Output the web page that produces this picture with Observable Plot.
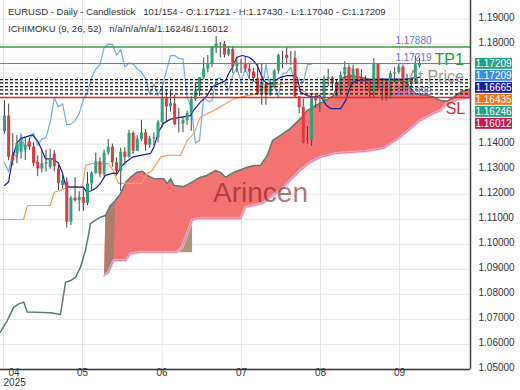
<!DOCTYPE html>
<html><head><meta charset="utf-8">
<script src="https://cdn.jsdelivr.net/npm/d3@7"></script>
<script src="https://cdn.jsdelivr.net/npm/@observablehq/plot@0.6"></script>
<style>
body{margin:0;background:#fff;font-family:"Liberation Sans",Arial,sans-serif;}
#wrap{position:relative;width:520px;height:390px;overflow:hidden;}
.hdr{position:absolute;left:8px;font-size:9.5px;color:#333;white-space:pre;line-height:12px;}
</style></head><body>
<div id="wrap"></div>
<script>
// ---- data ----
const opens  = [1.1450,1.1512,1.1353,1.1362,1.1368,1.1388,1.1408,1.1388,1.1328,1.1301,1.1320,1.1308,1.1360,1.1301,1.1235,1.1250,1.1088,1.1184,1.1174,1.1187,1.1163,1.1241,1.1283,1.1330,1.1280,1.1364,1.1388,1.1326,1.1290,1.1368,1.1347,1.1443,1.1371,1.1420,1.1444,1.1396,1.1421,1.1425,1.1487,1.1585,1.1549,1.1561,1.1478,1.1480,1.1494,1.1523,1.1578,1.1610,1.1665,1.1700,1.1718,1.1787,1.1800,1.1799,1.1756,1.1778,1.1708,1.1724,1.1721,1.1700,1.1688,1.1662,1.1598,1.1640,1.1596,1.1626,1.1692,1.1754,1.1755,1.1742,1.1742,1.1589,1.1546,1.1420,1.1415,1.1587,1.1572,1.1573,1.1660,1.1665,1.1642,1.1615,1.1675,1.1706,1.1649,1.1700,1.1661,1.1649,1.1650,1.1609,1.1718,1.1622,1.1641,1.1587,1.1681,1.1686,1.1708,1.1640,1.1660,1.1646,1.17121];
const highs  = [1.1573,1.1560,1.1442,1.1434,1.1425,1.1428,1.1425,1.1405,1.1353,1.1380,1.1375,1.1380,1.1375,1.1325,1.1275,1.1265,1.1192,1.1266,1.1210,1.1226,1.1287,1.1290,1.1364,1.1345,1.1376,1.1418,1.1400,1.1345,1.1384,1.1386,1.1455,1.1450,1.1434,1.1495,1.1458,1.1431,1.1445,1.1494,1.1631,1.1613,1.1614,1.1595,1.1542,1.1508,1.1532,1.1590,1.1640,1.1667,1.1744,1.1754,1.1789,1.1830,1.1806,1.1810,1.1790,1.1790,1.1748,1.1740,1.1747,1.1720,1.1703,1.1720,1.1721,1.1642,1.1660,1.1698,1.1760,1.1770,1.1788,1.1770,1.1771,1.1591,1.1580,1.1471,1.1600,1.1597,1.1588,1.1672,1.1699,1.1670,1.1656,1.1689,1.1730,1.1716,1.1716,1.1701,1.1697,1.1672,1.1659,1.1742,1.1720,1.1663,1.1651,1.1690,1.1705,1.1720,1.1716,1.1679,1.1663,1.1752,1.17430];
const lows   = [1.1440,1.1333,1.1313,1.1322,1.1340,1.1335,1.1375,1.1310,1.1270,1.1285,1.1288,1.1300,1.1290,1.1215,1.1220,1.1065,1.1075,1.1170,1.1130,1.1131,1.1154,1.1214,1.1280,1.1266,1.1270,1.1355,1.1308,1.1272,1.1211,1.1314,1.1345,1.1358,1.1370,1.1410,1.1372,1.1383,1.1393,1.1405,1.1465,1.1489,1.1528,1.1474,1.1445,1.1446,1.1475,1.1452,1.1571,1.1590,1.1657,1.1685,1.1705,1.1762,1.1745,1.1744,1.1749,1.1682,1.1685,1.1682,1.1688,1.1660,1.1650,1.1594,1.1556,1.1556,1.1590,1.1620,1.1680,1.1701,1.1716,1.1714,1.1583,1.1522,1.1401,1.1400,1.1391,1.1543,1.1528,1.1562,1.1631,1.1616,1.1589,1.1600,1.1660,1.1630,1.1646,1.1644,1.1640,1.1620,1.1583,1.1582,1.1613,1.1573,1.1573,1.1580,1.1645,1.1679,1.1608,1.1630,1.1606,1.1640,1.17040];
const closes = [1.1512,1.1348,1.1333,1.1402,1.1408,1.1395,1.1388,1.1322,1.1301,1.1322,1.1326,1.1341,1.1310,1.1242,1.1255,1.1088,1.1184,1.1174,1.1187,1.1163,1.1241,1.1283,1.1330,1.1280,1.1364,1.1388,1.1326,1.1290,1.1368,1.1347,1.1443,1.1371,1.1420,1.1444,1.1396,1.1421,1.1425,1.1487,1.1585,1.1549,1.1561,1.1478,1.1480,1.1494,1.1523,1.1578,1.1610,1.1665,1.1700,1.1718,1.1787,1.1800,1.1799,1.1756,1.1778,1.1708,1.1724,1.1721,1.1700,1.1688,1.1662,1.1598,1.1640,1.1596,1.1626,1.1692,1.1754,1.1755,1.1742,1.1742,1.1589,1.1546,1.1405,1.1415,1.1587,1.1572,1.1573,1.1660,1.1665,1.1642,1.1615,1.1675,1.1706,1.1649,1.1700,1.1661,1.1649,1.1650,1.1609,1.1718,1.1622,1.1641,1.1587,1.1681,1.1686,1.1708,1.1640,1.1660,1.1646,1.1717,1.17209];

// Ichimoku lines: [bar, price]
const tenkan = [[0,1.1235],[1,1.1250],[2,1.1348],[3,1.1405],[4,1.1423],[5,1.1428],[6.7,1.1437],[7.9,1.1415],[8.7,1.1388],[9.9,1.1341],[11.8,1.1341],[13,1.1323],[13.9,1.1288],[14.7,1.1235],[15.9,1.1228],[19,1.1228],[19.8,1.1208],[21.1,1.1215],[22.3,1.1228],[23.1,1.1243],[24.3,1.1275],[26,1.1283],[27.2,1.1283],[28,1.1308],[29.2,1.1328],[30.8,1.1348],[32.8,1.1355],[35.2,1.1363],[36,1.1388],[37.1,1.1448],[38.3,1.1483],[40,1.1500],[44.8,1.1514],[45.5,1.1534],[47.2,1.1568],[48.8,1.1594],[50,1.1628],[51.6,1.1641],[53.3,1.1654],[54,1.1681],[54.9,1.1707],[56,1.1747],[57.3,1.1754],[58.9,1.1747],[60,1.1734],[60.9,1.1714],[61.7,1.1681],[62.5,1.1654],[63.3,1.1641],[64.5,1.1641],[65.3,1.1654],[66.5,1.1667],[68.1,1.1674],[69.7,1.1674],[70.5,1.1667],[71.3,1.1608],[72.9,1.1594],[74.5,1.1588],[76,1.1594],[77.6,1.1554],[78.6,1.1542],[81,1.1542],[82.2,1.1574],[83.4,1.1634],[84.6,1.1654],[90,1.1660],[96.6,1.1660],[100,1.16665]];
const kijun = [[-1,1.1099],[4.6,1.1099],[5.5,1.1155],[11,1.1155],[12,1.1208],[13.5,1.1215],[15,1.1228],[18.8,1.1228],[19.5,1.1315],[21,1.1322],[25,1.1322],[26,1.1300],[27.5,1.1243],[33,1.1243],[34.4,1.1282],[35.6,1.1295],[37.6,1.1348],[39.2,1.1355],[42.4,1.1355],[44,1.1415],[45.6,1.1441],[47.2,1.1508],[50.4,1.1534],[55.3,1.1581],[58.5,1.1594],[60.9,1.1601],[61.7,1.1622],[64.1,1.1634],[66.5,1.1641],[69.6,1.1648],[71.3,1.1622],[72.9,1.1601],[93,1.1601],[94,1.16435],[100,1.16435]];
const spanA = [[-1,1.0649],[0.65,1.0695],[2.24,1.0749],[3.45,1.0762],[4.65,1.0769],[5.47,1.0729],[11.08,1.0726],[13.49,1.0719],[14.7,1.0848],[15.9,1.0855],[17.1,1.0868],[18.3,1.0908],[19.5,1.0975],[20.3,1.1042],[20.7,1.1082],[21.9,1.1095],[23.1,1.1108],[24.3,1.1115],[25.5,1.1155],[26.7,1.1175],[27.95,1.1202],[29.2,1.1248],[30.4,1.1268],[32,1.1288],[33.2,1.1292],[34.4,1.1275],[36,1.1262],[38.4,1.1262],[39.2,1.1242],[40,1.1262],[40.8,1.1235],[43.2,1.1231],[45.2,1.1248],[47.2,1.1268],[48.8,1.1275],[50.8,1.1295],[52,1.1288],[53.3,1.1268],[55.3,1.1288],[56.9,1.1298],[58.5,1.1308],[60.1,1.1315],[61.7,1.1315],[63.3,1.1355],[64.6,1.1415],[66.5,1.1435],[68.9,1.1463],[71.3,1.1502],[72.9,1.1534],[74.9,1.1554],[77.3,1.1574],[79.3,1.1594],[80.5,1.1646],[81.7,1.1667],[83.4,1.1674],[85.8,1.1667],[88.2,1.1658],[90.6,1.1658],[93,1.1654],[95.4,1.1654],[97,1.1647],[97.8,1.1622],[99,1.1602],[101.9,1.1594],[103.4,1.1588],[105.1,1.1574],[106.7,1.1572],[108.2,1.1588],[109.9,1.1608],[112.3,1.1621]];
const spanB = [[24,1.0875],[25.1,1.0888],[26.3,1.0935],[29.2,1.0935],[30.4,1.0962],[32.8,1.0968],[41.6,1.0968],[42.8,1.0988],[44,1.1042],[45.2,1.1095],[46.4,1.1102],[56.9,1.1102],[58.1,1.1148],[60.1,1.1155],[62.2,1.1163],[64.1,1.1187],[66.5,1.1215],[68.9,1.1255],[71.3,1.1295],[73.7,1.1327],[76.1,1.1347],[79.8,1.1363],[83.4,1.1367],[87,1.1371],[91.3,1.1383],[95.4,1.1427],[100.2,1.1494],[103.4,1.1522],[105.1,1.1534],[106.7,1.1562],[109.2,1.1578],[112.3,1.1586]];
// darker (olive) parts of the cloud, as bar ranges
const shadeRanges = [[24, 26.3], [41.6, 45.2]];

// horizontal levels
const tpLevel = 1.1788;
const entryLevel = 1.17219;
const dottedLevels = [1.1658, 1.1645, 1.1630, 1.1617, 1.1601];
const slLevel = 1.1586;
const levelTexts = ["1.17880", "1.17219", "1.15996"];

// axes
const priceTicks = d3.range(1.05, 1.1951, 0.01);
const monthTicks = [-0.24, 18.79, 37.95, 57.11, 76.14, 95.18];
const monthLabels = ["04", "05", "06", "07", "08", "09"];
const yearLabel = "2025";

// right tags
const tagValues = [1.17209, 1.17209, 1.16665, 1.16435, 1.16246, 1.16012];
const tagColors = ["#27a085", "#3c8ce4", "#1c1ca0", "#f07418", "#25a08a", "#c6184c"];

// ---- build ----
const yDomain = [1.04997, 1.19739];
const yPre = Plot.scale({y: {domain: yDomain, range: [369, 0]}});
let prevY = -Infinity;
const tagYs = tagValues.map(v => { const y = Math.max(yPre.apply(v), prevY + 12); prevY = y; return y; });
const tagTop = tagYs[0] - 6, tagBot = tagYs[tagYs.length - 1] + 6;
const shownTicks = priceTicks.filter(t => { const y = yPre.apply(t) - 1.5; return y < tagTop - 5 || y > tagBot + 5; });

const candles = closes.map((c, i) => ({i, o: opens[i], h: highs[i], l: lows[i], c}));
const chikou = candles.filter(d => d.i >= 26).map(d => ({x: d.i - 26, y: d.c}));
const pt = a => a.map(([x, y]) => ({x, y}));
const cloudPoly = [...spanA.filter(d => d[0] >= 23.9), ...spanB.slice().reverse()].map(([x, y]) => ({x, y}));
// shade 1: full cloud between its first bars; shade 2: the corner under the spanB step
const inR = (d, r) => d[0] >= r[0] - 0.01 && d[0] <= r[1] + 0.01;
const shade1 = [...spanA.filter(d => d[0] >= 23.9 && d[0] <= 26.7), ...spanB.filter(d => inR(d, shadeRanges[0])).reverse()].map(([x, y]) => ({x, y, g: 1}));
const sb2 = spanB.filter(d => inR(d, shadeRanges[1]));
const shade2 = [...sb2, [sb2[sb2.length - 1][0], sb2[0][1]]].map(([x, y]) => ({x, y, g: 2}));
const green = "#2ca37c", red = "#e0393e";

const chart = Plot.plot({
  width: 520, height: 390,
  marginLeft: 0, marginRight: 50, marginTop: 0, marginBottom: 21,
  style: {fontFamily: "Liberation Sans, Arial, sans-serif", fontSize: "10px", color: "#333", background: "#fff"},
  x: {domain: [-0.964, 112.29], axis: null},
  y: {domain: yDomain, axis: null},
  marks: [
    Plot.ruleY(priceTicks, {stroke: "#e6e6e6"}),
    Plot.ruleX(monthTicks, {stroke: "#e6e6e6"}),
    Plot.line(cloudPoly, {x: "x", y: "y", fill: "#f26b6b", fillOpacity: 0.95, stroke: "none", clip: true}),
    Plot.line([...shade1, ...shade2], {x: "x", y: "y", z: "g", fill: "#a0806a", fillOpacity: 0.85, stroke: "none", clip: true}),
    Plot.line(pt(spanB), {x: "x", y: "y", stroke: "#f6c0f2", strokeWidth: 3, strokeOpacity: 0.7, clip: true}),
    Plot.line(pt(spanB), {x: "x", y: "y", stroke: "#c87088", strokeWidth: 0.7, clip: true}),
    Plot.line(pt(spanA), {x: "x", y: "y", stroke: "#5d7a6c", strokeWidth: 1.5, clip: true}),
    Plot.text(["Arincen"], {frameAnchor: "middle", dx: 25, dy: 8.5, fontSize: 28, fill: "#7d1c1c", fillOpacity: 0.6}),
    Plot.line(chikou, {x: "x", y: "y", stroke: "#74ade0", strokeWidth: 1.2, clip: true}),
    Plot.line(pt(kijun), {x: "x", y: "y", stroke: "#f2a066", strokeWidth: 1.2, clip: true}),
    Plot.line(pt(tenkan), {x: "x", y: "y", stroke: "#1c1c9c", strokeWidth: 1.2, clip: true}),
    Plot.ruleX(candles, {x: "i", y1: "l", y2: "h", stroke: "#444", strokeWidth: 1}),
    Plot.ruleX(candles, {x: "i", y1: "o", y2: "c", stroke: d => d.c >= d.o ? green : red, strokeWidth: 3}),
    Plot.ruleY([tpLevel], {stroke: "#3f9a46", strokeWidth: 1.5}),
    Plot.ruleY([entryLevel], {stroke: "#777", strokeWidth: 1}),
    Plot.ruleY(dottedLevels, {stroke: "#111", strokeWidth: 1.2, strokeDasharray: "3,2"}),
    Plot.ruleY([slLevel], {stroke: "#e02828", strokeWidth: 1.5}),
    Plot.text([tpLevel, entryLevel, slLevel], {x: 102.9, y: d => d, text: (d, i) => levelTexts[i], textAnchor: "end", dy: -6, fill: "#6475c4", fontSize: 10}),
    Plot.text(["TP1"], {x: 103.6, y: [entryLevel], textAnchor: "start", dy: -4, fill: "#2a9a3c", fontSize: 16}),
    Plot.text(["At Price"], {x: 97.2, y: [dottedLevels[0]], textAnchor: "start", dy: -2.5, fill: "#8a8a8a", fillOpacity: 0.9, fontSize: 16}),
    Plot.text(["SL"], {x: 106.3, y: [slLevel], textAnchor: "start", dy: 11, fill: "#d42c2c", fontSize: 16}),
    Plot.ruleY([yDomain[0]], {stroke: "#333", strokeWidth: 1.5}),
    Plot.ruleX([112.29], {stroke: "#444", strokeWidth: 1.5}),
    Plot.axisY({anchor: "right", ticks: shownTicks, tickSize: 0, tickPadding: 8, tickFormat: d => d.toFixed(5), fontSize: 10, dy: -1.5}),
    Plot.text(monthTicks.slice(1), {x: d => d, text: (d, i) => monthLabels[i + 1], frameAnchor: "bottom", dy: 6, fontSize: 10, fill: "#333"}),
    Plot.text([monthTicks[0]], {x: d => d, text: [monthLabels[0]], frameAnchor: "bottom", textAnchor: "start", dx: 5, dy: 6, fontSize: 10, fill: "#333"}),
    Plot.text([monthTicks[0]], {x: d => d, text: [yearLabel], frameAnchor: "bottom", textAnchor: "start", dy: 16, fontSize: 10, fill: "#333"})
  ]
});

const wrap = document.getElementById("wrap");
wrap.appendChild(chart);
const svg = d3.select(chart.tagName.toLowerCase() === "svg" ? chart : chart.querySelector("svg"));
tagValues.forEach((v, k) => {
  const y = tagYs[k];
  svg.append("rect").attr("x", 475).attr("y", y - 5.5).attr("width", 37).attr("height", 11).attr("fill", tagColors[k]);
  svg.append("text").attr("x", 493.5).attr("y", y).attr("dy", "0.35em").attr("text-anchor", "middle")
    .attr("fill", "#fff").attr("font-size", 10).text(v.toFixed(5));
});

const h1 = document.createElement("div");
h1.className = "hdr"; h1.style.top = "6px";
h1.textContent = "EURUSD - Daily - Candlestick   101/154 - O:1.17121 - H:1.17430 - L:1.17040 - C:1.17209";
const h2 = document.createElement("div");
h2.className = "hdr"; h2.style.top = "23px";
h2.textContent = "ICHIMOKU (9, 26, 52)   n/a/n/a/n/a/1.16246/1.16012";
wrap.appendChild(h1); wrap.appendChild(h2);
</script>
</body></html>
